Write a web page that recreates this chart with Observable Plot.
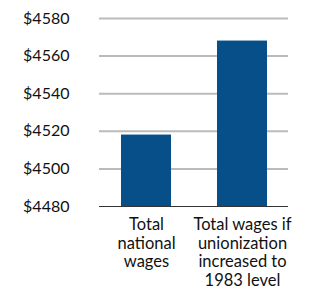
<!DOCTYPE html>
<html>
<head>
<meta charset="utf-8">
<script src="https://cdn.jsdelivr.net/npm/d3@7"></script>
<script src="https://cdn.jsdelivr.net/npm/@observablehq/plot@0.6"></script>
<style>
  html, body { margin: 0; padding: 0; background: #fff; }
  #chart svg { display: block; }
</style>
</head>
<body>
<div id="chart"></div>
<script>
const categories = ["Total national wages", "Total wages if unionization increased to 1983 level"];
const values = [4518, 4568];
const categoryLabels = ["Total\nnational\nwages", "Total wages if\nunionization\nincreased to\n1983 level"];
const yTicks = [4480, 4500, 4520, 4540, 4560, 4580];

const data = categories.map((c, i) => ({category: c, value: values[i]}));
const labelOf = new Map(categories.map((c, i) => [c, categoryLabels[i]]));

const chart = Plot.plot({
  width: 311,
  height: 291,
  marginLeft: 99,
  marginRight: 23,
  marginTop: 18,
  marginBottom: 85,
  style: {fontFamily: "Lato, 'Open Sans', sans-serif", fontSize: "16px", color: "#111", background: "#fff"},
  x: {domain: categories, paddingInner: 0.48, paddingOuter: 0.22, label: null},
  y: {domain: [4480, 4580], label: null},
  marks: [
    Plot.gridY(yTicks.slice(1), {stroke: "#bbbbbb", strokeOpacity: 1, strokeWidth: 2}),
    Plot.barY(data, {x: "category", y1: 4480, y2: "value", fill: "#064f89"}),
    Plot.ruleY([4480], {stroke: "#333", strokeWidth: 1.2}),
    Plot.axisY({ticks: yTicks, tickSize: 0, tickPadding: 30, tickFormat: d => "$" + d, fontSize: 16}),
    Plot.axisX({tickSize: 0, tickPadding: 10, tickFormat: d => labelOf.get(d), fontSize: 16.5, lineHeight: 1.14})
  ]
});
document.getElementById("chart").appendChild(chart);
</script>
</body>
</html>
